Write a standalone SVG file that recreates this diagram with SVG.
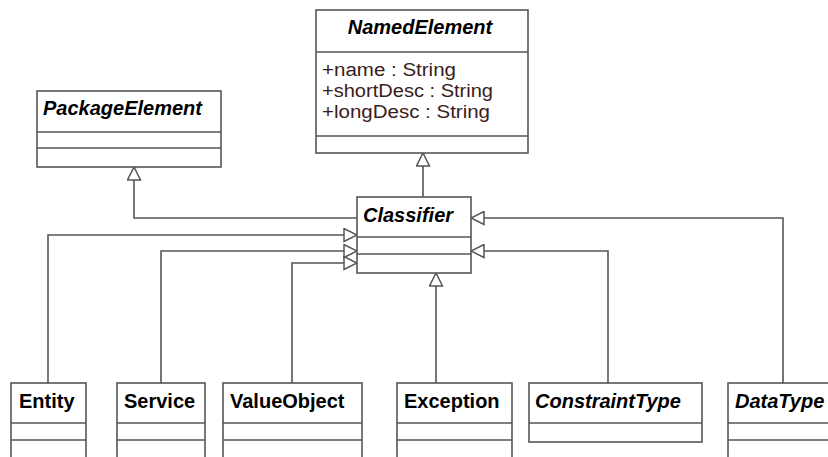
<svg xmlns="http://www.w3.org/2000/svg" width="828" height="457" viewBox="0 0 828 457">
<defs>
<style>
.box{fill:#fff;stroke:#555;stroke-width:1.6}
.div{stroke:#555;stroke-width:1.6;fill:none}
.name{font-family:"Liberation Sans",Arial,sans-serif;font-size:20px;font-weight:bold;fill:#000}
.abs{font-style:italic}
.attr{font-family:"Liberation Sans",Arial,sans-serif;font-size:18px;fill:#3a1c1c}
.conn{fill:none;stroke:#555;stroke-width:1.6}
</style>
<marker id="gen" markerUnits="userSpaceOnUse" markerWidth="15" markerHeight="15" viewBox="-1 -1 15 15" refX="13" refY="6.5" orient="auto">
<path d="M0,0 L13,6.5 L0,13 Z" fill="#fff" stroke="#555" stroke-width="1.5"/>
</marker>
</defs>
<rect width="828" height="457" fill="#fff"/>

<g id="connectors">
<path class="conn" d="M423,197 L423,153" marker-end="url(#gen)"/>
<path class="conn" d="M357,218 L134,218 L134,167" marker-end="url(#gen)"/>
<path class="conn" d="M48,383 L48,235 L357,235" marker-end="url(#gen)"/>
<path class="conn" d="M161,383 L161,251 L357,251" marker-end="url(#gen)"/>
<path class="conn" d="M292,383 L292,263 L357,263" marker-end="url(#gen)"/>
<path class="conn" d="M436,383 L436,273" marker-end="url(#gen)"/>
<path class="conn" d="M608,383 L608,251 L471,251" marker-end="url(#gen)"/>
<path class="conn" d="M783,383 L783,218 L471,218" marker-end="url(#gen)"/>
</g>

<g id="NamedElement">
<rect class="box" x="316" y="10" width="212" height="143"/>
<line class="div" x1="316" y1="52" x2="528" y2="52"/>
<line class="div" x1="316" y1="136" x2="528" y2="136"/>
<text class="name abs" x="420" y="34" text-anchor="middle">NamedElement</text>
<text class="attr" x="322" y="76" textLength="134" lengthAdjust="spacingAndGlyphs">+name : String</text>
<text class="attr" x="322" y="97" textLength="171" lengthAdjust="spacingAndGlyphs">+shortDesc : String</text>
<text class="attr" x="322" y="118" textLength="168" lengthAdjust="spacingAndGlyphs">+longDesc : String</text>
</g>

<g id="PackageElement">
<rect class="box" x="37" y="91" width="184" height="76"/>
<line class="div" x1="37" y1="132" x2="221" y2="132"/>
<line class="div" x1="37" y1="148" x2="221" y2="148"/>
<text class="name abs" x="43" y="115">PackageElement</text>
</g>

<g id="Classifier">
<rect class="box" x="357" y="197" width="114" height="76"/>
<line class="div" x1="357" y1="237" x2="471" y2="237"/>
<line class="div" x1="357" y1="254" x2="471" y2="254"/>
<text class="name abs" x="363" y="222">Classifier</text>
</g>

<g id="Entity">
<rect class="box" x="11" y="383" width="75" height="90"/>
<line class="div" x1="11" y1="423" x2="86" y2="423"/>
<line class="div" x1="11" y1="440" x2="86" y2="440"/>
<text class="name" x="19" y="408">Entity</text>
</g>

<g id="Service">
<rect class="box" x="117" y="383" width="88" height="90"/>
<line class="div" x1="117" y1="423" x2="205" y2="423"/>
<line class="div" x1="117" y1="440" x2="205" y2="440"/>
<text class="name" x="124" y="408">Service</text>
</g>

<g id="ValueObject">
<rect class="box" x="223" y="383" width="139" height="90"/>
<line class="div" x1="223" y1="423" x2="362" y2="423"/>
<line class="div" x1="223" y1="440" x2="362" y2="440"/>
<text class="name" x="230" y="408">ValueObject</text>
</g>

<g id="Exception">
<rect class="box" x="397" y="383" width="115" height="90"/>
<line class="div" x1="397" y1="423" x2="512" y2="423"/>
<line class="div" x1="397" y1="440" x2="512" y2="440"/>
<text class="name" x="404" y="408">Exception</text>
</g>

<g id="ConstraintType">
<rect class="box" x="529" y="383" width="173" height="59"/>
<line class="div" x1="529" y1="423" x2="702" y2="423"/>
<text class="name abs" x="535" y="408">ConstraintType</text>
</g>

<g id="DataType">
<rect class="box" x="728" y="383" width="120" height="90"/>
<line class="div" x1="728" y1="423" x2="848" y2="423"/>
<line class="div" x1="728" y1="440" x2="848" y2="440"/>
<text class="name abs" x="735" y="408">DataType</text>
</g>
</svg>
